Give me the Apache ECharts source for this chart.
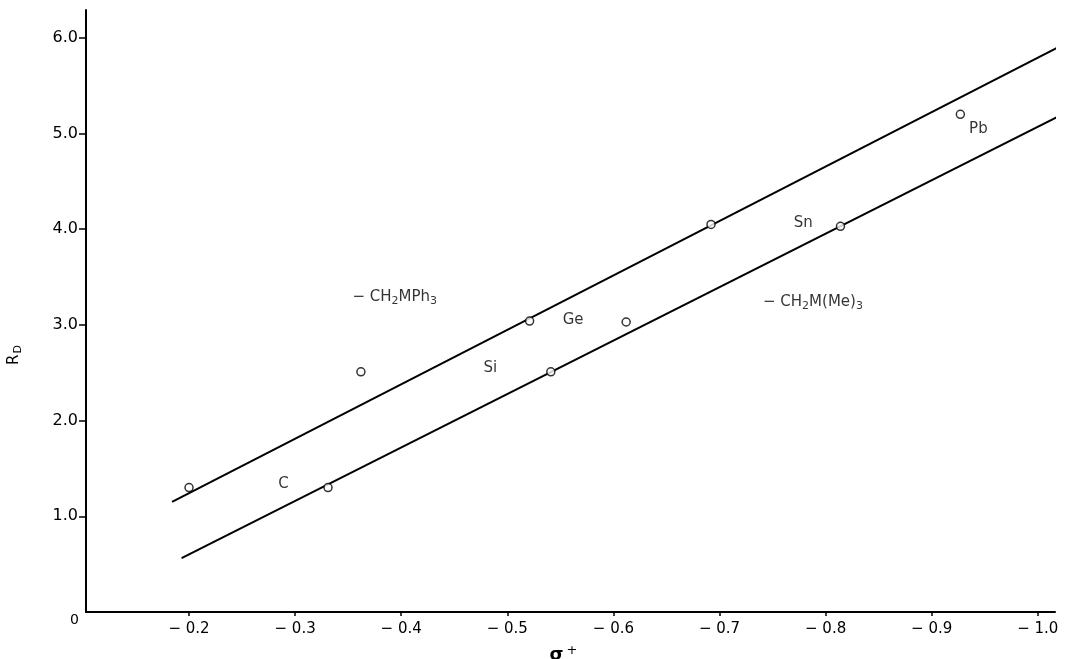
<!DOCTYPE html>
<html>
<head>
<meta charset="utf-8">
<script src="https://cdn.jsdelivr.net/npm/echarts@6/dist/echarts.min.js"></script>
<style>html,body{margin:0;padding:0;background:#fff;}#c{width:1069px;height:659px;}</style>
</head>
<body>
<div id="c"></div>
<script>
// Tick labels
const xTicks = [-0.2, -0.3, -0.4, -0.5, -0.6, -0.7, -0.8, -0.9, -1.0];
const yTicks = [1, 2, 3, 4, 5, 6];
// Measured points [sigma+, R_D]
const ph3Points = [[-0.200, 1.30], [-0.362, 2.51], [-0.521, 3.04], [-0.692, 4.05], [-0.927, 5.20]];
const me3Points = [[-0.331, 1.30], [-0.541, 2.51], [-0.612, 3.03], [-0.814, 4.03]];
// Fitted lines (end points)
const ph3Fit = [[-0.184, 1.15], [-1.028, 5.95]];
const me3Fit = [[-0.193, 0.564], [-1.026, 5.216]];
// Annotations
const elementNames = ['C', 'Si', 'Ge', 'Sn', 'Pb'];
const elementAt = [[-0.289, 1.338], [-0.484, 2.55], [-0.562, 3.05], [-0.779, 4.06], [-0.944, 5.05]];
const seriesNames = ['− CH{s|2}MPh{s|3}', '− CH{s|2}M(Me){s|3}'];
const seriesNameAt = [[-0.354, 3.29], [-0.741, 3.24]];

const FONT = 'DejaVu Sans';
const INK = '#000';
const rich = {
  s: { fontFamily: FONT, fontSize: 11, color: INK, padding: [9, 0, 0, 0] }
};

const chart = echarts.init(document.getElementById('c'), null, { renderer: 'canvas' });
const ptStyle = { color: '#fff', borderColor: INK, borderWidth: 1.5 };
const lineStyle = { color: INK, width: 2 };

chart.setOption({
  animation: false,
  backgroundColor: '#fff',
  grid: { left: 86, right: 14, top: 10, bottom: 47, containLabel: false, outerBoundsMode: 'none' },
  xAxis: {
    type: 'value', inverse: true, min: -1.0162, max: -0.1029,
    splitLine: { show: false },
    axisLine: { show: true, onZero: false, lineStyle: { color: INK, width: 2 } },
    axisTick: { show: true, length: 4, inside: false, customValues: xTicks, lineStyle: { color: INK, width: 1.5 } },
    axisLabel: { customValues: xTicks, margin: 10, color: INK, fontFamily: FONT, fontSize: 15,
      formatter: v => '− ' + Math.abs(v).toFixed(1) },
    name: '{a|σ}{b|+}', nameLocation: 'middle', nameGap: 32,
    nameTextStyle: { padding: [0, 14, 0, 0], rich: {
      a: { fontFamily: FONT, fontSize: 18, fontWeight: 'bold', color: INK },
      b: { fontFamily: FONT, fontSize: 13, color: INK, padding: [0, 0, 10, 3] }
    } }
  },
  yAxis: {
    type: 'value', min: 0, max: 6.29,
    splitLine: { show: false },
    axisLine: { show: true, onZero: false, lineStyle: { color: INK, width: 2 } },
    axisTick: { show: true, length: 7, customValues: yTicks, lineStyle: { color: INK, width: 1.5 } },
    axisLabel: { customValues: yTicks, margin: 8, color: INK, fontFamily: FONT, fontSize: 16,
      formatter: v => v.toFixed(1) },
    name: '{a|R}{d|D}', nameLocation: 'middle', nameGap: 62, nameRotate: 90,
    nameTextStyle: { padding: [0, 88, 0, 0], rich: {
      a: { fontFamily: FONT, fontSize: 15, color: INK },
      d: { fontFamily: FONT, fontSize: 11, color: INK, padding: [9, 0, 0, 1] }
    } }
  },
  graphic: [
    { type: 'text', left: 70, top: 613, style: { text: '0', fontFamily: FONT, fontSize: 14, fill: INK } }
  ],
  series: [
    { type: 'line', data: ph3Fit, symbol: 'none', clip: false, lineStyle: lineStyle, z: 2 },
    { type: 'line', data: me3Fit, symbol: 'none', clip: false, lineStyle: lineStyle, z: 2 },
    { type: 'scatter', data: ph3Points, symbol: 'circle', symbolSize: 8, itemStyle: ptStyle, z: 3 },
    { type: 'scatter', data: me3Points, symbol: 'circle', symbolSize: 8, itemStyle: ptStyle, z: 3 },
    { type: 'scatter', symbolSize: 0, silent: true, z: 4,
      data: elementNames.map((n, i) => ({ value: elementAt[i], name: n })),
      label: { show: true, position: 'inside', formatter: p => p.name, color: INK, fontFamily: FONT, fontSize: 15 } },
    { type: 'scatter', symbolSize: 0, silent: true, z: 4,
      data: seriesNames.map((n, i) => ({ value: seriesNameAt[i], name: n })),
      label: { show: true, position: 'right', distance: 0, formatter: p => p.name, color: INK,
        fontFamily: FONT, fontSize: 15, rich: rich } }
  ]
});
</script>
</body>
</html>
